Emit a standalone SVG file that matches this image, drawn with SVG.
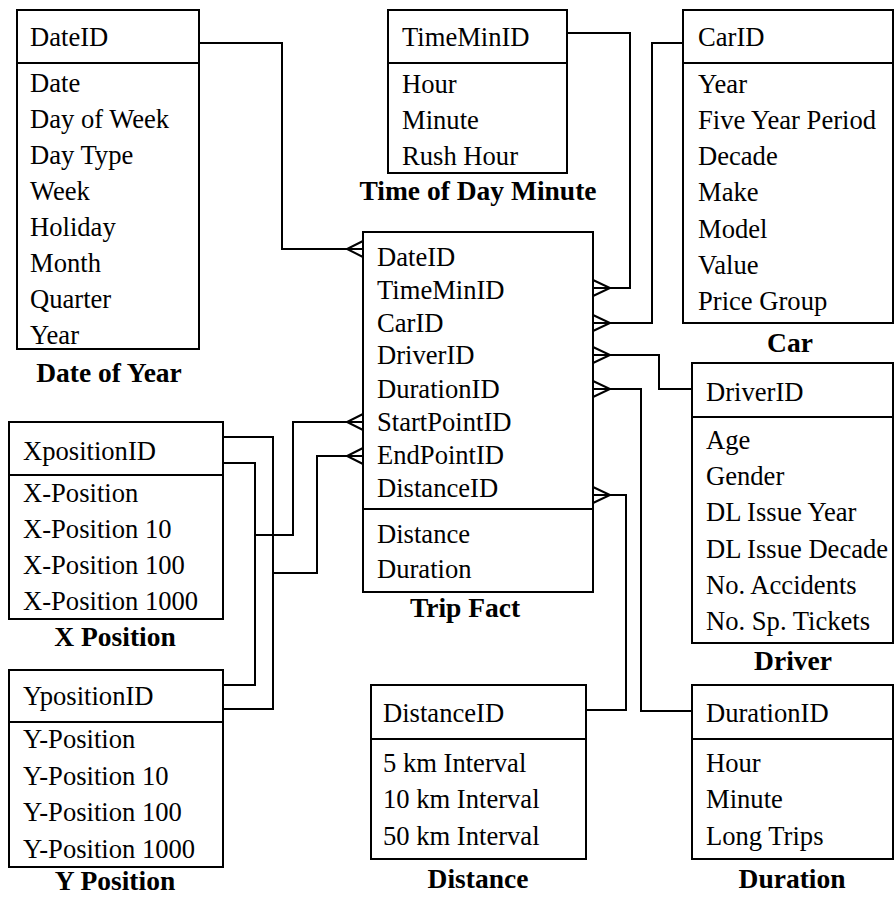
<svg xmlns="http://www.w3.org/2000/svg" width="895" height="897" viewBox="0 0 895 897">
  <style>
    .box { fill: #ffffff; stroke: #000000; stroke-width: 2; }
    .sep { stroke: #000000; stroke-width: 2; }
    .ln  { fill: none; stroke: #000000; stroke-width: 2; }
    .t   { font-family: "Liberation Serif", "Times New Roman", serif; font-size: 26.6px; fill: #000000; }
    .h   { font-family: "Liberation Serif", "Times New Roman", serif; font-size: 27.5px; font-weight: bold; fill: #000000; text-anchor: middle; }
  </style>
  <defs>
    <!-- crow's foot (many end), opening toward the table edge -->
    <path id="crowL" class="ln" d="M16,-8 L0,0 L16,8"/>
    <path id="crowR" class="ln" d="M0,-8 L17,0 L0,8"/>
  </defs>
  <rect width="895" height="897" fill="#ffffff"/>

  <!-- relationship lines -->
  <g id="connectors">
    <path class="ln" d="M199,43 H282 V249 H363"/>
    <path class="ln" d="M567,33 H630 V288 H593"/>
    <path class="ln" d="M683,43 H652 V323 H593"/>
    <path class="ln" d="M593,355 H659 V389 H692"/>
    <path class="ln" d="M593,389 H641 V711 H692"/>
    <path class="ln" d="M593,495 H626 V710 H586"/>
    <path class="ln" d="M363,422 H293 V535 H255"/>
    <path class="ln" d="M363,456 H317 V573 H273"/>
    <path class="ln" d="M223,437 H273 V709 H223"/>
    <path class="ln" d="M223,463 H255 V685 H223"/>
    <use href="#crowL" x="347" y="249"/>
    <use href="#crowL" x="347" y="422"/>
    <use href="#crowL" x="347" y="456"/>
    <use href="#crowR" x="593" y="288"/>
    <use href="#crowR" x="593" y="323"/>
    <use href="#crowR" x="593" y="355"/>
    <use href="#crowR" x="593" y="389"/>
    <use href="#crowR" x="593" y="495"/>
  </g>

  <g id="date-of-year">
    <rect class="box" x="17" y="10" width="182" height="339"/>
    <line class="sep" x1="17" y1="63" x2="199" y2="63"/>
    <text class="t" x="30" y="46">DateID</text>
    <text class="t" x="30" y="92">Date</text>
    <text class="t" x="30" y="128">Day of Week</text>
    <text class="t" x="30" y="164">Day Type</text>
    <text class="t" x="30" y="200">Week</text>
    <text class="t" x="30" y="236">Holiday</text>
    <text class="t" x="30" y="272">Month</text>
    <text class="t" x="30" y="308">Quarter</text>
    <text class="t" x="30" y="344">Year</text>
    <text class="h" x="109" y="382">Date of Year</text>
  </g>

  <g id="time-of-day-minute">
    <rect class="box" x="388" y="10" width="179" height="163"/>
    <line class="sep" x1="388" y1="63" x2="567" y2="63"/>
    <text class="t" x="402" y="46">TimeMinID</text>
    <text class="t" x="402" y="93">Hour</text>
    <text class="t" x="402" y="129">Minute</text>
    <text class="t" x="402" y="165">Rush Hour</text>
    <text class="h" x="478" y="200">Time of Day Minute</text>
  </g>

  <g id="car">
    <rect class="box" x="683" y="10" width="210" height="313"/>
    <line class="sep" x1="683" y1="63" x2="893" y2="63"/>
    <text class="t" x="698" y="46">CarID</text>
    <text class="t" x="698" y="93">Year</text>
    <text class="t" x="698" y="129">Five Year Period</text>
    <text class="t" x="698" y="165">Decade</text>
    <text class="t" x="698" y="201">Make</text>
    <text class="t" x="698" y="238">Model</text>
    <text class="t" x="698" y="274">Value</text>
    <text class="t" x="698" y="310">Price Group</text>
    <text class="h" x="790" y="352">Car</text>
  </g>

  <g id="trip-fact">
    <rect class="box" x="363" y="232" width="230" height="360"/>
    <line class="sep" x1="363" y1="509" x2="593" y2="509"/>
    <text class="t" x="377" y="266">DateID</text>
    <text class="t" x="377" y="299">TimeMinID</text>
    <text class="t" x="377" y="332">CarID</text>
    <text class="t" x="377" y="364">DriverID</text>
    <text class="t" x="377" y="398">DurationID</text>
    <text class="t" x="377" y="431">StartPointID</text>
    <text class="t" x="377" y="464">EndPointID</text>
    <text class="t" x="377" y="497">DistanceID</text>
    <text class="t" x="377" y="543">Distance</text>
    <text class="t" x="377" y="578">Duration</text>
    <text class="h" x="465" y="617">Trip Fact</text>
  </g>

  <g id="driver">
    <rect class="box" x="692" y="363" width="201" height="280"/>
    <line class="sep" x1="692" y1="417" x2="893" y2="417"/>
    <text class="t" x="706" y="401">DriverID</text>
    <text class="t" x="706" y="449">Age</text>
    <text class="t" x="706" y="485">Gender</text>
    <text class="t" x="706" y="521">DL Issue Year</text>
    <text class="t" x="706" y="558">DL Issue Decade</text>
    <text class="t" x="706" y="594">No. Accidents</text>
    <text class="t" x="706" y="630">No. Sp. Tickets</text>
    <text class="h" x="793" y="670">Driver</text>
  </g>

  <g id="x-position">
    <rect class="box" x="9" y="422" width="214" height="197"/>
    <line class="sep" x1="9" y1="475" x2="223" y2="475"/>
    <text class="t" x="23" y="460">XpositionID</text>
    <text class="t" x="23" y="502">X-Position</text>
    <text class="t" x="23" y="538">X-Position 10</text>
    <text class="t" x="23" y="574">X-Position 100</text>
    <text class="t" x="23" y="610">X-Position 1000</text>
    <text class="h" x="115" y="646">X Position</text>
  </g>

  <g id="y-position">
    <rect class="box" x="9" y="670" width="214" height="197"/>
    <line class="sep" x1="9" y1="722" x2="223" y2="722"/>
    <text class="t" x="23" y="705">YpositionID</text>
    <text class="t" x="23" y="748">Y-Position</text>
    <text class="t" x="23" y="785">Y-Position 10</text>
    <text class="t" x="23" y="821">Y-Position 100</text>
    <text class="t" x="23" y="858">Y-Position 1000</text>
    <text class="h" x="115" y="890">Y Position</text>
  </g>

  <g id="distance">
    <rect class="box" x="371" y="685" width="215" height="174"/>
    <line class="sep" x1="371" y1="739" x2="586" y2="739"/>
    <text class="t" x="383" y="722">DistanceID</text>
    <text class="t" x="383" y="772">5 km Interval</text>
    <text class="t" x="383" y="808">10 km Interval</text>
    <text class="t" x="383" y="845">50 km Interval</text>
    <text class="h" x="478" y="888">Distance</text>
  </g>

  <g id="duration">
    <rect class="box" x="692" y="685" width="201" height="174"/>
    <line class="sep" x1="692" y1="739" x2="893" y2="739"/>
    <text class="t" x="706" y="722">DurationID</text>
    <text class="t" x="706" y="772">Hour</text>
    <text class="t" x="706" y="808">Minute</text>
    <text class="t" x="706" y="845">Long Trips</text>
    <text class="h" x="792" y="888">Duration</text>
  </g>
</svg>
